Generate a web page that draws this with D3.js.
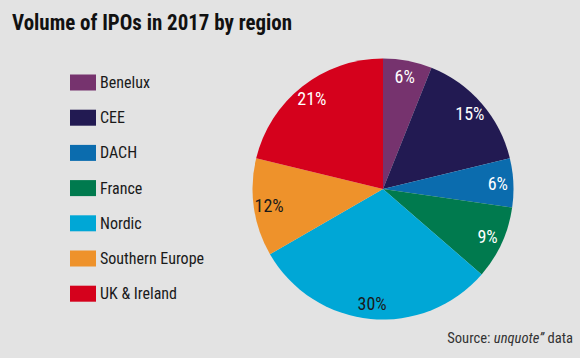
<!DOCTYPE html>
<html><head><meta charset="utf-8">
<script src="https://cdn.jsdelivr.net/npm/d3@7"></script>
<style>
html,body{margin:0;padding:0;background:#e3e3e3;}
svg{display:block;}
text{font-family:"Liberation Sans Narrow","Roboto Condensed","Liberation Sans",Arial,sans-serif;}
</style></head>
<body>
<script>
const categories = ["Benelux","CEE","DACH","France","Nordic","Southern Europe","UK & Ireland"];
const values = [6,15,6,9,30,12,21];
const labels = ["6%","15%","6%","9%","30%","12%","21%"];
const colors = ["#76336e","#221a52","#0b6cae","#007a4e","#00a7d6","#ee922b","#d5011c"];
const labelColors = ["#fff","#fff","#fff","#fff","#1a1a1a","#1a1a1a","#fff"];

const W=580,H=358;
const svg=d3.select("body").append("svg").attr("width",W).attr("height",H);
svg.append("rect").attr("width",W).attr("height",H).attr("fill","#e3e3e3");

svg.append("text").attr("x",12).attr("y",30).attr("font-size",22.5).attr("font-weight","bold")
  .attr("textLength",280).attr("lengthAdjust","spacingAndGlyphs")
  .attr("fill","#111").text("Volume of IPOs in 2017 by region");

const cx=383, cy=189, R=130.5;
const pie=d3.pie().sort(null).value(d=>d)(values);
const arc=d3.arc().innerRadius(0).outerRadius(R);
const labelArc=d3.arc().innerRadius(115).outerRadius(115);
const g=svg.append("g").attr("transform",`translate(${cx},${cy})`);
g.selectAll("path").data(pie).enter().append("path")
  .attr("d",arc).attr("fill",(d,i)=>colors[i]);
g.selectAll("text").data(pie).enter().append("text")
  .attr("transform",d=>{const c=labelArc.centroid(d);return `translate(${c[0]},${c[1]})`;})
  .attr("text-anchor","middle").attr("dominant-baseline","central")
  .attr("font-size",18).attr("fill",(d,i)=>labelColors[i]).text((d,i)=>labels[i]);

const y0=82.5, step=35.2;
const leg=svg.append("g");
categories.forEach((c,i)=>{
  const y=y0+i*step;
  leg.append("rect").attr("x",70).attr("y",y-8).attr("width",26).attr("height",16).attr("fill",colors[i]);
  leg.append("text").attr("x",100).attr("y",y).attr("dominant-baseline","central")
    .attr("font-size",16).attr("fill","#1a1a1a").text(c);
});

const src=svg.append("text").attr("x",573).attr("y",343).attr("text-anchor","end")
  .attr("font-size",14.6).attr("fill","#333");
src.append("tspan").text("Source: ");
src.append("tspan").attr("font-style","italic").text("unquote\u201d");
src.append("tspan").text(" data");
</script>
</body></html>
